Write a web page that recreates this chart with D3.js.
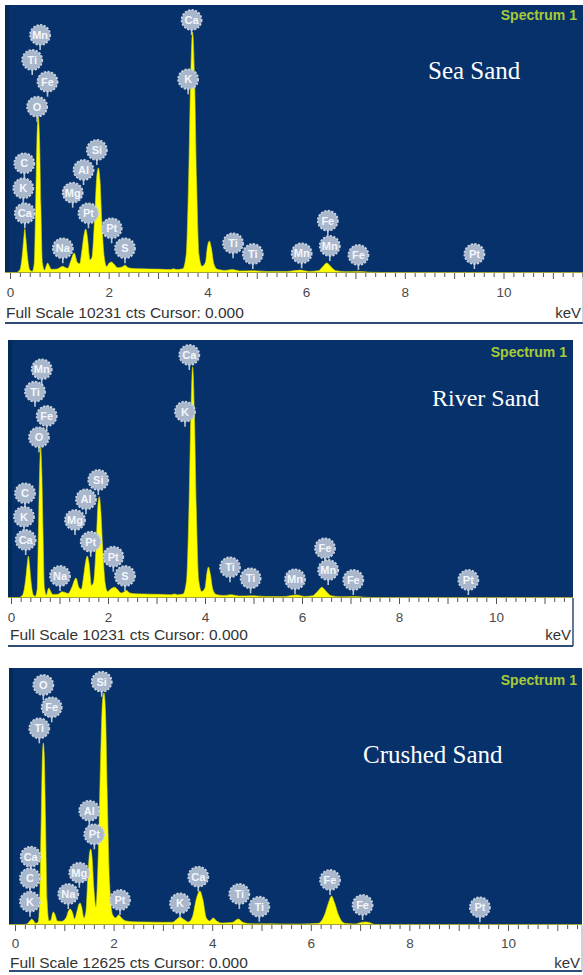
<!DOCTYPE html>
<html><head><meta charset="utf-8">
<script src="https://cdn.jsdelivr.net/npm/d3@7"></script>
<style>
html,body{margin:0;padding:0;background:#fff;}
svg{display:block;}
</style></head><body>
<svg id="chart" width="583" height="975"></svg>
<script>
// ---- EDS spectra (energy in keV, intensity in counts) ----
const seaEnergy = [0,0.12,0.20,0.25,0.28,0.30,0.32,0.35,0.40,0.45,0.49,0.52,0.545,0.573,0.60,0.625,0.655,0.70,0.74,0.764,0.79,0.84,0.95,1.03,1.07,1.11,1.17,1.23,1.30,1.36,1.41,1.46,1.50,1.534,1.57,1.62,1.66,1.72,1.755,1.79,1.825,1.86,1.91,1.96,2.01,2.06,2.11,2.18,2.27,2.33,2.40,2.50,2.70,2.90,3.10,3.25,3.31,3.38,3.50,3.57,3.62,3.66,3.70,3.74,3.78,3.83,3.89,3.96,4.00,4.04,4.08,4.13,4.20,4.35,4.51,4.65,4.93,5.20,5.60,5.88,6.05,6.25,6.34,6.42,6.50,6.60,6.80,7.06,7.30,7.60,8.50,11.7];
const seaCounts = [0,10,120,700,1350,1680,1350,700,120,60,350,2600,5000,5956,5000,2600,400,110,300,382,300,140,150,230,260,220,180,450,764,420,350,900,1450,1680,1350,500,600,2300,3600,4009,3500,2000,600,250,380,420,330,200,230,300,200,170,160,150,140,130,160,130,160,700,3600,7400,9201,7400,3600,700,260,400,1000,1222,950,350,140,100,130,80,90,60,55,110,60,90,250,382,250,90,50,60,30,15,8,5];

const riverEnergy = [0,0.15,0.24,0.30,0.335,0.357,0.38,0.41,0.46,0.50,0.54,0.565,0.59,0.612,0.635,0.66,0.69,0.73,0.76,0.78,0.81,0.86,0.97,1.05,1.10,1.18,1.26,1.34,1.40,1.45,1.50,1.54,1.573,1.61,1.66,1.70,1.76,1.79,1.82,1.85,1.89,1.94,1.99,2.07,2.14,2.20,2.27,2.32,2.38,2.45,2.55,2.75,2.95,3.15,3.30,3.37,3.43,3.55,3.62,3.67,3.71,3.746,3.78,3.82,3.87,3.93,4.00,4.04,4.07,4.11,4.16,4.23,4.38,4.55,4.70,4.97,5.25,5.60,5.90,6.05,6.22,6.32,6.41,6.50,6.60,6.80,7.08,7.30,7.60,8.50,11.7];
const riverCounts = [0,10,120,700,1350,1666,1350,700,120,70,350,2600,5000,5990,5000,2600,400,120,320,400,300,140,150,250,230,180,450,790,420,350,900,1450,1666,1350,500,600,2300,3600,4020,3500,2000,600,260,380,430,330,200,230,300,200,170,160,150,140,130,160,130,160,700,3600,7400,9170,7400,3600,700,260,400,1000,1230,950,350,140,100,130,80,90,60,55,120,60,90,260,430,260,90,50,60,30,15,8,5];

const crushedEnergy = [0,0.15,0.25,0.31,0.34,0.37,0.42,0.47,0.50,0.53,0.555,0.574,0.595,0.62,0.65,0.69,0.73,0.76,0.78,0.81,0.86,0.95,1.04,1.09,1.12,1.16,1.21,1.26,1.30,1.32,1.35,1.40,1.44,1.48,1.51,1.535,1.56,1.60,1.64,1.69,1.74,1.775,1.805,1.835,1.87,1.92,1.98,2.04,2.10,2.16,2.25,2.40,2.60,2.80,3.00,3.20,3.28,3.35,3.42,3.52,3.60,3.68,3.75,3.81,3.88,3.95,4.02,4.09,4.20,4.40,4.53,4.63,4.80,5.00,5.40,5.80,6.15,6.28,6.36,6.42,6.48,6.56,6.68,6.90,7.03,7.10,7.17,7.30,7.60,8.50,11.7];
const crushedCounts = [0,10,60,230,295,230,80,150,1200,5000,8200,8940,8200,5000,1200,200,250,560,640,520,200,180,380,720,786,650,300,700,1050,1080,900,350,700,2500,3500,3730,3400,1800,900,3500,8500,11000,11400,10500,6500,2000,500,350,490,350,200,160,150,140,130,140,280,393,280,150,400,1300,1670,1250,350,200,344,200,100,120,295,120,60,60,50,50,80,500,1100,1425,1100,500,90,50,130,150,130,30,15,8,5];

// ---- element markers: symbol, energy (keV), marker height (counts) ----
const seaLabelEl  = ["Mn","Ti","Fe","O","C","K","Ca","Na","Mg","Al","Si","Pt","Pt","S","Ca","K","Ti","Ti","Mn","Fe","Mn","Fe","Pt"];
const seaLabelKeV = [0.61,0.45,0.76,0.55,0.29,0.27,0.30,1.07,1.27,1.49,1.76,1.59,2.06,2.33,3.68,3.61,4.52,4.92,5.91,6.44,6.48,7.06,9.41];
const seaLabelCts = [9087,8132,7304,6349,4188,3234,2279,943,3066,3933,4696,2279,1707,943,9660,7395,1134,725,752,1997,1031,687,725];

const riverLabelEl  = ["Mn","Ti","Fe","O","C","K","Ca","Na","Mg","Al","Si","Pt","Pt","S","Ca","K","Ti","Ti","Mn","Fe","Mn","Fe","Pt"];
const riverLabelKeV = [0.633,0.495,0.736,0.577,0.289,0.268,0.303,1.01,1.32,1.546,1.80,1.643,2.109,2.35,3.676,3.588,4.515,4.94,5.856,6.474,6.54,7.058,9.43];
const riverLabelCts = [9070,8182,7218,6373,4152,3224,2300,873,3093,3914,4680,2233,1638,873,9637,7389,1218,781,742,1971,1110,714,714];

const crushedLabelEl  = ["O","Fe","Ti","Ca","C","K","Na","Mg","Al","Pt","Si","Pt","K","Ca","Ti","Ti","Fe","Fe","Pt"];
const crushedLabelKeV = [0.574,0.744,0.493,0.318,0.304,0.304,1.081,1.304,1.507,1.609,1.759,2.13,3.347,3.718,4.55,4.955,6.39,7.05,9.43];
const crushedLabelCts = [11789,10693,9662,3355,2294,1144,1523,2569,5614,4455,11951,1228,1066,2372,1523,899,2210,982,869];

const titles = ["Sea Sand", "River Sand", "Crushed Sand"];
const fullScale = [10231, 10231, 12625];
const tickLabels = [0, 2, 4, 6, 8, 10];

// ---- panel geometry ----
const layouts = [
  {left:5, right:583, top:5,   base:273, bottom:323, x0:10, k:49.35, titleX:428, titleY:79,  titleSize:25, specY:20,  specRight:577, fsX:6,  textY:318, labY:19},
  {left:8, right:573, top:340, base:598, bottom:646, x0:11, k:48.5,  titleX:432, titleY:406, titleSize:24, specY:357, specRight:567, fsX:10, textY:640, labY:19},
  {left:9, right:582, top:668, base:925, bottom:971, x0:15, k:49.3,  titleX:363, titleY:763, titleSize:25, specY:685, specRight:577, fsX:10, textY:968, labY:18}
];
const spectra = [[seaEnergy, seaCounts], [riverEnergy, riverCounts], [crushedEnergy, crushedCounts]];
const markers = [[seaLabelEl, seaLabelKeV, seaLabelCts], [riverLabelEl, riverLabelKeV, riverLabelCts], [crushedLabelEl, crushedLabelKeV, crushedLabelCts]];

const svg = d3.select("#chart");
const BLUE = "#06316a";
const R = 10;

// soft edge for the element balloons
const defs = svg.append("defs");
defs.append("filter").attr("id", "soft").attr("x", "-30%").attr("y", "-30%").attr("width", "160%").attr("height", "160%")
  .append("feGaussianBlur").attr("stdDeviation", 0.45);

layouts.forEach((L, i) => {
  const g = svg.append("g");
  const kevMax = (L.right - L.x0) / L.k;
  const x = d3.scaleLinear().domain([0, kevMax]).range([L.x0, L.right]);
  const y = d3.scaleLinear().domain([0, fullScale[i]]).range([L.base, L.top]);

  // plot background
  g.append("rect").attr("x", L.left).attr("y", L.top)
    .attr("width", L.right - L.left).attr("height", L.base - L.top).attr("fill", BLUE);
  g.append("rect").attr("x", L.left).attr("y", L.top)
    .attr("width", 4).attr("height", L.base - L.top).attr("fill", "#042a5c");
  // lower frame
  g.append("line").attr("x1", L.left).attr("x2", L.right).attr("y1", L.bottom).attr("y2", L.bottom)
    .attr("stroke", "#2d4d78").attr("stroke-width", 2);
  g.append("line").attr("x1", L.right).attr("x2", L.right).attr("y1", L.base).attr("y2", L.bottom)
    .attr("stroke", i === 1 ? "#2d4d78" : "#9aa6b6").attr("stroke-width", i === 1 ? 1.5 : 1);

  const clipId = "clip" + i;
  defs.append("clipPath").attr("id", clipId).append("rect")
    .attr("x", L.left).attr("y", L.top).attr("width", L.right - L.left).attr("height", L.base - L.top);

  const [en, ct] = spectra[i];
  const pts = en.map((e, j) => [e, ct[j]]);
  const area = d3.area().x(d => x(d[0])).y0(y(0)).y1(d => y(d[1])).curve(d3.curveMonotoneX);
  const plot = g.append("g").attr("clip-path", `url(#${clipId})`);
  plot.append("path").datum(pts).attr("d", area)
    .attr("fill", "#ffff00").attr("stroke", "#d8d800").attr("stroke-width", 0.6);
  plot.append("line").attr("x1", L.left).attr("x2", L.right).attr("y1", y(0) - 0.5).attr("y2", y(0) - 0.5)
    .attr("stroke", "#a3a33a").attr("stroke-width", 1);

  // energy axis
  const minor = d3.range(0, kevMax, 0.2).filter(v => Math.abs(v - Math.round(v)) > 0.01);
  const minorAxis = d3.axisBottom(x).tickValues(minor).tickSize(4).tickFormat("");
  const majorAxis = d3.axisBottom(x).tickValues(d3.range(0, Math.floor(kevMax) + 1, 1)).tickSize(6)
    .tickFormat(d => tickLabels.includes(d) ? d : "");
  const ax1 = g.append("g").attr("transform", `translate(0,${L.base})`).call(minorAxis);
  const ax2 = g.append("g").attr("transform", `translate(0,${L.base})`).call(majorAxis);
  [ax1, ax2].forEach(a => {
    a.select(".domain").remove();
    a.selectAll(".tick line").attr("stroke", "#555");
  });
  ax2.selectAll(".tick text").attr("y", L.labY).attr("dy", "0.35em")
    .attr("fill", "#4a4a4a").attr("font-family", "Liberation Sans, Arial, sans-serif").attr("font-size", 13.5);

  g.append("text").attr("x", L.fsX).attr("y", L.textY)
    .attr("font-family", "Liberation Sans, Arial, sans-serif").attr("font-size", 15.5).attr("fill", "#333")
    .text(`Full Scale ${fullScale[i]} cts Cursor: 0.000`);
  g.append("text").attr("x", L.right - 2).attr("y", L.textY).attr("text-anchor", "end")
    .attr("font-family", "Liberation Sans, Arial, sans-serif").attr("font-size", 15).attr("fill", "#333")
    .text("keV");

  // element markers
  const [els, kev, cts] = markers[i];
  const mk = g.append("g").selectAll("g").data(els.map((e, j) => ({el: e, e: kev[j], c: cts[j]})))
    .join("g").attr("transform", d => `translate(${x(d.e)},${y(d.c)})`);
  mk.append("line").attr("x1", 0).attr("x2", 0).attr("y1", R - 1).attr("y2", R + 5)
    .attr("stroke", "#b9c5d5").attr("stroke-width", 1.6);
  mk.append("circle").attr("r", R).attr("fill", "#a8b7cc")
    .attr("stroke", "#c8d2df").attr("stroke-width", 1.8).attr("stroke-dasharray", "2.2 1.4")
    .attr("filter", "url(#soft)");
  mk.append("text").attr("text-anchor", "middle").attr("dy", "0.36em")
    .attr("font-family", "Liberation Sans, Arial, sans-serif").attr("font-size", 11).attr("font-weight", "bold")
    .attr("fill", "#f4f6fa").text(d => d.el);

  // headings
  g.append("text").attr("x", L.specRight).attr("y", L.specY).attr("text-anchor", "end")
    .attr("font-family", "Liberation Sans, Arial, sans-serif").attr("font-size", 14).attr("font-weight", "bold")
    .attr("fill", "#a6ca38").text("Spectrum 1");
  g.append("text").attr("x", L.titleX).attr("y", L.titleY)
    .attr("font-family", "Liberation Serif, Times New Roman, serif").attr("font-size", L.titleSize)
    .attr("fill", "#ffffff").text(titles[i]);
});
</script></body></html>
